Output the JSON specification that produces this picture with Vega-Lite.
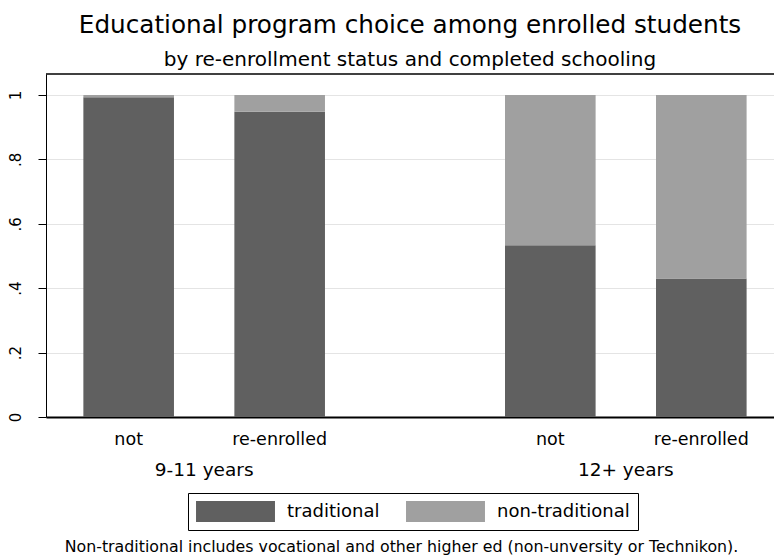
{
  "$schema": "https://vega.github.io/schema/vega-lite/v6.json",
  "autosize": {"type": "none"},
  "padding": {"left": 46, "top": 74, "right": 0, "bottom": 143},
  "width": 728,
  "height": 343,
  "background": "white",
  "title": {
    "text": "Educational program choice among enrolled students",
    "subtitle": "by re-enrollment status and completed schooling",
    "font": "DejaVu Sans",
    "fontSize": 24.7,
    "fontWeight": "normal",
    "color": "black",
    "subtitleFont": "DejaVu Sans",
    "subtitleFontSize": 20,
    "subtitleColor": "black",
    "subtitlePadding": 13,
    "anchor": "middle",
    "offset": 3
  },
  "config": {
    "view": {"stroke": null},
    "font": "DejaVu Sans",
    "axis": {"labelFont": "DejaVu Sans", "titleFont": "DejaVu Sans", "labelColor": "black", "titleColor": "black"},
    "legend": {"labelFont": "DejaVu Sans"}
  },
  "data": {
    "values": [
      {"schooling": "9-11 years", "status": "not", "program": "traditional", "share": 0.993},
      {"schooling": "9-11 years", "status": "not", "program": "non-traditional", "share": 0.007},
      {"schooling": "9-11 years", "status": "re-enrolled", "program": "traditional", "share": 0.948},
      {"schooling": "9-11 years", "status": "re-enrolled", "program": "non-traditional", "share": 0.052},
      {"schooling": "12+ years", "status": "not", "program": "traditional", "share": 0.533},
      {"schooling": "12+ years", "status": "not", "program": "non-traditional", "share": 0.467},
      {"schooling": "12+ years", "status": "re-enrolled", "program": "traditional", "share": 0.43},
      {"schooling": "12+ years", "status": "re-enrolled", "program": "non-traditional", "share": 0.57}
    ]
  },
  "layer": [
    {
      "mark": {"type": "bar"},
      "encoding": {
        "x": {
          "field": "schooling",
          "type": "nominal",
          "sort": ["9-11 years", "12+ years"],
          "scale": {"paddingInner": 0.427, "paddingOuter": 0.0768, "align": 0.577},
          "axis": {
            "title": "Non-traditional includes vocational and other higher ed (non-unversity or Technikon).",
            "titleFontSize": 15.8,
            "titleFontWeight": "normal",
            "titlePadding": 61,
            "titleX": 355,
            "labelFontSize": 18.5,
            "labelAngle": 0,
            "labelPadding": 43,
            "ticks": false,
            "domainColor": "black",
            "domainWidth": 2
          }
        },
        "xOffset": {
          "field": "status",
          "type": "nominal",
          "sort": ["not", "re-enrolled"],
          "scale": {"paddingInner": 0.4, "paddingOuter": 0}
        },
        "y": {
          "field": "share",
          "type": "quantitative",
          "stack": "zero",
          "scale": {"domain": [0, 1.0652], "nice": false},
          "axis": {
            "title": null,
            "values": [0, 0.2, 0.4, 0.6, 0.8, 1],
            "labelExpr": "datum.value == 0 ? '0' : datum.value == 1 ? '1' : replace(format(datum.value, '.1f'), '0.', '.')",
            "labelAngle": 270,
            "labelFontSize": 15,
            "labelPadding": 15,
            "tickSize": 8,
            "tickColor": "black",
            "domainColor": "black",
            "grid": true,
            "gridColor": "#e4e4e4",
            "gridWidth": 1.2
          }
        },
        "color": {
          "field": "program",
          "type": "nominal",
          "scale": {"domain": ["traditional", "non-traditional"], "range": ["#606060", "#a0a0a0"]},
          "legend": {
            "title": null,
            "orient": "none",
            "legendX": 142,
            "legendY": 419,
            "direction": "horizontal",
            "columns": 2,
            "strokeColor": "black",
            "padding": 8,
            "labelFontSize": 18,
            "labelColor": "black",
            "symbolType": "M-3.76,-1H3.76V1H-3.76Z",
            "symbolSize": 441,
            "symbolStrokeWidth": 0,
            "symbolOpacity": 1,
            "symbolOffset": 29,
            "labelOffset": 41,
            "columnPadding": 26
          }
        },
        "order": {"field": "program", "sort": "descending"}
      }
    },
    {
      "mark": {"type": "text", "fontSize": 17.5, "color": "black", "baseline": "middle", "dy": 23, "font": "DejaVu Sans"},
      "transform": [{"filter": "datum.program == 'traditional'"}],
      "encoding": {
        "x": {"field": "schooling", "type": "nominal", "sort": ["9-11 years", "12+ years"]},
        "xOffset": {"field": "status", "type": "nominal", "sort": ["not", "re-enrolled"]},
        "y": {"datum": 0},
        "text": {"field": "status"}
      }
    },
    {
      "data": {"values": [{"edge": "top"}]},
      "mark": {"type": "rule", "color": "black", "strokeWidth": 1.5},
      "encoding": {"y": {"datum": 1.0652}}
    }
  ]
}
